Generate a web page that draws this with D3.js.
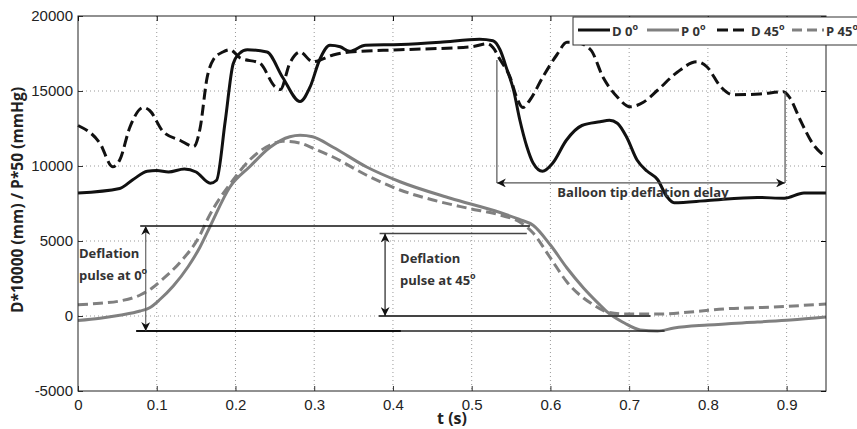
<!DOCTYPE html>
<html>
<head>
<meta charset="utf-8">
<script src="https://cdn.jsdelivr.net/npm/d3@7"></script>
<style>
  body { margin: 0; background: #fff; }
  .tick text { font-family: 'Liberation Sans', Arial, sans-serif; font-size: 15px; fill: #222; }
  .note { font-family: 'Open Sans', sans-serif; font-weight: bold; font-size: 13px; fill: #333; }
  .title { font-family: 'Open Sans', sans-serif; font-weight: bold; font-size: 16px; fill: #222; }
</style>
</head>
<body>
<div class="chart"></div>
<script>
// datos: tiempo (s) y valor
const d0T = [0, 0.053, 0.07, 0.088, 0.1, 0.115, 0.135, 0.15, 0.168, 0.176, 0.187, 0.197, 0.205, 0.215, 0.24, 0.26, 0.282, 0.295, 0.307, 0.32, 0.333, 0.345, 0.365, 0.41, 0.46, 0.51, 0.527, 0.536, 0.545, 0.553, 0.561, 0.57, 0.578, 0.59, 0.603, 0.62, 0.64, 0.663, 0.675, 0.685, 0.697, 0.71, 0.723, 0.736, 0.748, 0.757, 0.8, 0.863, 0.897, 0.922, 0.95];
const d0V = [8200, 8500, 9100, 9650, 9700, 9600, 9800, 9600, 8850, 9050, 13000, 16800, 17500, 17750, 17600, 15900, 14300, 15300, 17100, 18050, 17950, 17650, 18050, 18100, 18250, 18450, 18350, 17750, 16400, 15100, 13100, 11300, 10200, 9650, 10200, 11700, 12700, 12950, 13050, 12850, 11900, 10400, 9650, 9100, 7950, 7550, 7700, 7900, 7850, 8200, 8200];

const p0T = [0, 0.028, 0.053, 0.079, 0.091, 0.104, 0.121, 0.14, 0.155, 0.168, 0.193, 0.218, 0.244, 0.269, 0.282, 0.298, 0.324, 0.366, 0.409, 0.473, 0.536, 0.56, 0.578, 0.6, 0.621, 0.642, 0.663, 0.672, 0.694, 0.714, 0.736, 0.757, 0.8, 0.863, 0.905, 0.95];
const p0V = [-300, -150, 50, 330, 550, 1100, 2000, 3300, 4600, 6000, 8600, 9950, 11250, 11950, 12050, 11950, 11250, 9950, 8950, 7850, 6900, 6450, 6050, 4730, 3200, 1870, 730, 270, -470, -930, -1000, -800, -600, -400, -270, -70];

const d45T = [0, 0.028, 0.044, 0.053, 0.066, 0.083, 0.091, 0.108, 0.13, 0.147, 0.155, 0.164, 0.172, 0.184, 0.193, 0.206, 0.231, 0.25, 0.257, 0.269, 0.282, 0.298, 0.324, 0.345, 0.409, 0.5, 0.52, 0.527, 0.536, 0.549, 0.557, 0.565, 0.574, 0.59, 0.608, 0.621, 0.632, 0.651, 0.667, 0.685, 0.701, 0.718, 0.736, 0.761, 0.786, 0.799, 0.816, 0.832, 0.866, 0.896, 0.904, 0.917, 0.933, 0.95];
const d45V = [12700, 11500, 9950, 10400, 12600, 13900, 13700, 12300, 11700, 11300, 12500, 15900, 17100, 17600, 17750, 17200, 16850, 15300, 15100, 16850, 17600, 16950, 17400, 17600, 17750, 17950, 18150, 17900, 17100, 15900, 14600, 13900, 14400, 15900, 17400, 18250, 18250, 17750, 15900, 14600, 13950, 14250, 15050, 16250, 16950, 16600, 15300, 14750, 14800, 14950, 14550, 13100, 11500, 10600];

const p45T = [0, 0.028, 0.053, 0.079, 0.095, 0.104, 0.13, 0.155, 0.165, 0.197, 0.218, 0.244, 0.26, 0.282, 0.298, 0.324, 0.366, 0.409, 0.451, 0.494, 0.536, 0.561, 0.578, 0.6, 0.621, 0.642, 0.651, 0.672, 0.694, 0.736, 0.778, 0.82, 0.884, 0.95];
const p45V = [750, 850, 1000, 1400, 1900, 2300, 3600, 5400, 6500, 9070, 10400, 11400, 11650, 11530, 11200, 10600, 9400, 8400, 7730, 7200, 6730, 6270, 5530, 3870, 2270, 1200, 870, 270, 130, 130, 270, 470, 600, 800];

// nombres de las series y ticks
const seriesNames = ['D 0', 'P 0', 'D 45', 'P 45'];
const xTicks = [0, 0.1, 0.2, 0.3, 0.4, 0.5, 0.6, 0.7, 0.8, 0.9];
const yTicks = [-5000, 0, 5000, 10000, 15000, 20000];

// anotaciones (t, valor)
const pulse0 = { top: 6000, bottom: -1000, t0: 0.079, t1: 0.574, b0: 0.074, bMid: 0.41, b1: 0.745, arrowT: 0.086 };
const pulse45 = { top: 5500, bottom: 0, t0: 0.383, t1: 0.57, b0: 0.382, b1: 0.727, arrowT: 0.39 };
const delay = { tA: 0.532, tB: 0.898, topA: 17070, topB: 14930, v: 8870 };

// estilos
const styles = [
  { color: '#111', dash: null, width: 3 },
  { color: '#808080', dash: null, width: 3 },
  { color: '#111', dash: '11,5', width: 3 },
  { color: '#808080', dash: '10,5', width: 3 }
];

const series = [[d0T, d0V], [p0T, p0V], [d45T, d45V], [p45T, p45V]]
  .map(([ts, vs], i) => ({ name: seriesNames[i], style: styles[i], values: ts.map((t, j) => ({ t, v: vs[j] })) }));

const margin = { top: 16, right: 31, bottom: 38, left: 78 };
const W = 857, H = 429;
const width = W - margin.left - margin.right;
const height = H - margin.top - margin.bottom;

const x = d3.scaleLinear().domain([0, 0.95]).range([0, width]);
const y = d3.scaleLinear().domain([-5000, 20000]).range([height, 0]);

const root = d3.select('.chart').append('svg')
  .attr('width', W).attr('height', H);

const defs = root.append('defs');
defs.append('marker')
  .attr('id', 'arr')
  .attr('viewBox', '0 0 10 10')
  .attr('refX', 10).attr('refY', 5)
  .attr('markerWidth', 9).attr('markerHeight', 9)
  .attr('markerUnits', 'userSpaceOnUse')
  .attr('orient', 'auto-start-reverse')
  .append('path')
  .attr('d', 'M0,0 L10,5 L0,10 L3,5 z')
  .attr('fill', '#111');

const svg = root.append('g')
  .attr('transform', `translate(${margin.left},${margin.top})`);

// rejilla punteada
svg.append('g').selectAll('line')
  .data(xTicks.slice(1)).join('line')
  .attr('x1', d => x(d)).attr('x2', d => x(d))
  .attr('y1', 0).attr('y2', height)
  .attr('stroke', '#999').attr('stroke-width', 1).attr('stroke-dasharray', '1,3');
svg.append('g').selectAll('line')
  .data(yTicks.slice(1, -1)).join('line')
  .attr('x1', 0).attr('x2', width)
  .attr('y1', d => y(d)).attr('y2', d => y(d))
  .attr('stroke', '#999').attr('stroke-width', 1).attr('stroke-dasharray', '1,3');

// ejes estilo matlab (ticks hacia dentro)
const xAxis = d3.axisBottom(x).tickValues(xTicks).tickFormat(d => d === 0 ? '0' : d3.format('.1f')(d)).tickSize(-5).tickPadding(8).tickSizeOuter(0);
const yAxis = d3.axisLeft(y).tickValues(yTicks).tickFormat(d => d).tickSize(-5).tickPadding(5).tickSizeOuter(0);

svg.append('g').attr('transform', `translate(0,${height})`).call(xAxis)
  .call(g => g.select('.domain').remove())
  .call(g => g.selectAll('.tick line').attr('stroke', '#333'));
svg.append('g').call(yAxis)
  .call(g => g.select('.domain').remove())
  .call(g => g.selectAll('.tick line').attr('stroke', '#333'));
svg.append('g').attr('transform', `translate(${width},0)`)
  .call(d3.axisRight(y).tickValues(yTicks).tickSize(-5).tickFormat('').tickSizeOuter(0))
  .call(g => g.select('.domain').remove());
svg.append('g')
  .call(d3.axisTop(x).tickValues(xTicks).tickSize(-5).tickFormat('').tickSizeOuter(0))
  .call(g => g.select('.domain').remove());

// líneas
const line = d3.line().x(d => x(d.t)).y(d => y(d.v)).curve(d3.curveMonotoneX);

svg.append('g').selectAll('path')
  .data(series).join('path')
  .attr('d', d => line(d.values))
  .attr('fill', 'none')
  .attr('stroke', d => d.style.color)
  .attr('stroke-width', d => d.style.width)
  .attr('stroke-dasharray', d => d.style.dash)
  .attr('stroke-linejoin', 'round');

// caja del gráfico
svg.append('rect')
  .attr('width', width).attr('height', height)
  .attr('fill', 'none').attr('stroke', '#222').attr('stroke-width', 1);

// anotaciones
const ann = svg.append('g');
const hline = (t0, t1, v, w, c) => ann.append('line')
  .attr('x1', x(t0)).attr('x2', x(t1)).attr('y1', y(v)).attr('y2', y(v))
  .attr('stroke', c).attr('stroke-width', w);
const vline = (t, v0, v1, w, c) => ann.append('line')
  .attr('x1', x(t)).attr('x2', x(t)).attr('y1', y(v0)).attr('y2', y(v1))
  .attr('stroke', c).attr('stroke-width', w);

hline(pulse0.t0, pulse0.t1, pulse0.top, 1.3, '#111');
hline(pulse0.b0, pulse0.b1, pulse0.bottom, 1.3, '#222');
hline(pulse0.b0, pulse0.bMid, pulse0.bottom, 2.2, '#111');
vline(pulse0.arrowT, pulse0.top, pulse0.bottom, 1.2, '#666')
  .attr('marker-start', 'url(#arr)').attr('marker-end', 'url(#arr)');

hline(pulse45.t0, pulse45.t1, pulse45.top, 1.6, '#444');
hline(pulse45.b0, pulse45.b1, pulse45.bottom, 2, '#444');
vline(pulse45.arrowT, pulse45.top, pulse45.bottom, 1.2, '#222')
  .attr('marker-start', 'url(#arr)').attr('marker-end', 'url(#arr)');

vline(delay.tA, delay.topA, delay.v, 1.2, '#555');
vline(delay.tB, delay.topB, delay.v, 1.2, '#555');
ann.append('line')
  .attr('x1', x(delay.tA)).attr('x2', x(delay.tB))
  .attr('y1', y(delay.v)).attr('y2', y(delay.v))
  .attr('stroke', '#555').attr('stroke-width', 1.2)
  .attr('marker-start', 'url(#arr)').attr('marker-end', 'url(#arr)');

// textos de anotación
const deg = (sel, txt) => {
  sel.append('tspan').text(txt);
  sel.append('tspan').attr('dy', -6).attr('font-size', 9).text('o');
};
const note = (tx, yTop, l1, l2) => {
  const g = ann.append('g');
  g.append('text').attr('class', 'note').attr('x', tx).attr('y', yTop).text(l1);
  deg(g.append('text').attr('class', 'note').attr('x', tx).attr('y', yTop + 22), l2);
};
note(1, 258 - margin.top, 'Deflation', 'pulse at 0');
note(x(pulse45.arrowT) + 15, 263 - margin.top, 'Deflation', 'pulse at 45');
ann.append('text').attr('class', 'note')
  .attr('x', (x(delay.tA) + x(delay.tB)) / 2 + 2).attr('y', y(delay.v) + 14)
  .attr('text-anchor', 'middle')
  .text('Balloon tip deflation delay');

// títulos de los ejes
root.append('text').attr('class', 'title')
  .attr('x', margin.left + x(0.475)).attr('y', 424)
  .attr('text-anchor', 'middle').text('t (s)');
root.append('text').attr('class', 'title')
  .attr('transform', `translate(23,200) rotate(-90)`)
  .attr('text-anchor', 'middle')
  .attr('textLength', 226).attr('lengthAdjust', 'spacingAndGlyphs')
  .text('D*10000 (mm) / P*50 (mmHg)');

// leyenda
const lg = root.append('g').attr('transform', 'translate(573,17)');
lg.append('rect').attr('width', 290).attr('height', 28)
  .attr('fill', '#fff').attr('stroke', '#333').attr('stroke-width', 1);
const legendX = [5, 74, 144, 219];
series.forEach((s, i) => {
  const g = lg.append('g').attr('transform', `translate(${legendX[i]},13)`);
  g.append('line').attr('x1', 0).attr('x2', 32)
    .attr('stroke', s.style.color).attr('stroke-width', s.style.width)
    .attr('stroke-dasharray', s.style.dash);
  deg(g.append('text').attr('class', 'note').attr('x', 34).attr('y', 6).attr('font-size', 14), s.name);
});
</script>
</body>
</html>
